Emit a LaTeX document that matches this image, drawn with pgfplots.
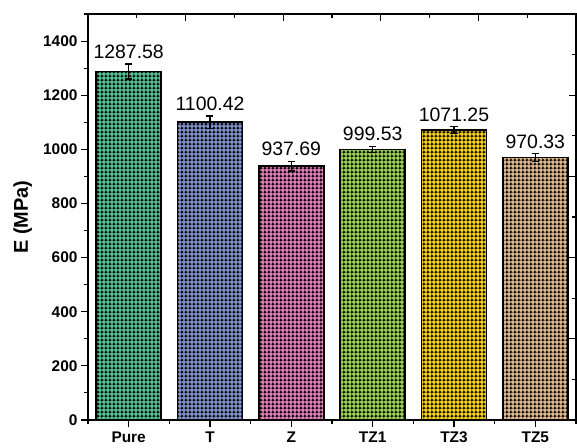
\documentclass[border=0pt]{standalone}
\usepackage{pgfplots}
\pgfplotsset{compat=1.18}
\usepackage{pgfplotstable}
\usepackage{fontspec}
\setmainfont{Liberation Sans}
\usetikzlibrary{patterns.meta}

\tikzdeclarepattern{
  name=dotgrid,
  type=uncolored,
  bottom left={(0bp,0bp)},
  top right={(4.4bp,4.4bp)},
  tile size={(4.4bp,4.4bp)},
  code={
    \draw[line width=0.55bp] (0bp,2.2bp) -- (4.4bp,2.2bp);
    \draw[line width=0.55bp] (2.2bp,0bp) -- (2.2bp,4.4bp);
    \fill (2.2bp,2.2bp) circle (1.35bp);
  }
}

\definecolor{cPure}{HTML}{55C495}
\definecolor{cT}{HTML}{8494D0}
\definecolor{cZ}{HTML}{E57FBD}
\definecolor{cTZa}{HTML}{9CD454}
\definecolor{cTZb}{HTML}{F8D01E}
\definecolor{cTZc}{HTML}{E2BA90}

\pgfplotstableread{
x y err lab
0 1287.58 28 1287.58
1 1100.42 23 1100.42
2 937.69 18 937.69
3 999.53 12 999.53
4 1071.25 12 1071.25
5 970.33 14 970.33
}\datatab

\begin{document}
\begin{tikzpicture}
\path[use as bounding box] (-88bp,-28bp) rectangle (489bp,420bp);
\pgfplotsset{
  barsty/.style={draw=black, line width=1.5bp, fill=#1, postaction={pattern=dotgrid, pattern color=black}},
}
\begin{axis}[
  width=488bp, height=406bp, scale only axis,
  at={(0,0)}, anchor=south west,
  xmin=-0.5, xmax=5.5, ymin=0, ymax=1500,
  ybar, bar width=0.8, bar shift=0pt,
  xtick={0,1,2,3,4,5}, xticklabels={Pure,T,Z,TZ1,TZ3,TZ5},
  minor xtick={-0.5,0.5,1.5,2.5,3.5,4.5,5.5},
  ytick={0,200,...,1400}, minor ytick={100,300,...,1500},
  xtick pos=left, ytick pos=left, tick align=outside,
  major tick length=7bp, minor tick length=4bp,
  every tick/.style={black, line width=1.1bp},
  axis line style={line width=1.2bp, black},
  ticklabel style={font=\fontsize{15.5}{18}\selectfont\bfseries},
  xticklabel style={yshift=-1.5bp},
  /pgf/number format/assume math mode=true,
  /pgf/number format/1000 sep={},
  ylabel={E (MPa)},
  ylabel style={font=\fontsize{20}{24}\selectfont\bfseries, at={(axis description cs:-0.134,0.5)}, anchor=center},
  clip=false,
  error bars/y dir=both, error bars/y explicit,
  error bars/error bar style={black, line width=1.2bp},
  error bars/error mark options={rotate=90, black, line width=1.2bp, mark size=3.5bp},
]
\addplot[barsty=cPure] coordinates {(0,1287.58) +- (0,28)};
\addplot[barsty=cT] coordinates {(1,1100.42) +- (0,23)};
\addplot[barsty=cZ] coordinates {(2,937.69) +- (0,18)};
\addplot[barsty=cTZa] coordinates {(3,999.53) +- (0,12)};
\addplot[barsty=cTZb] coordinates {(4,1071.25) +- (0,12)};
\addplot[barsty=cTZc] coordinates {(5,970.33) +- (0,14)};
\addplot[sharp plot, draw=none, no markers, error bars/y dir=none,
  nodes near coords, point meta=explicit symbolic,
  nodes near coords style={anchor=south, inner sep=0pt, yshift=5bp, font=\fontsize{19.5}{22}\selectfont, text=black}]
  table[x=x, y expr=\thisrow{y}+\thisrow{err}, meta=lab] {\datatab};
\end{axis}
\begin{axis}[
  width=488bp, height=406bp, scale only axis,
  at={(0,0)}, anchor=south west,
  xmin=0, xmax=1, ymin=0, ymax=1,
  xtick={0,0.2,...,1}, ytick={0,0.2,...,1}, minor tick num=1,
  xtick pos=right, ytick pos=right, tick align=inside,
  xticklabels={}, yticklabels={},
  major tick length=7bp, minor tick length=4bp,
  every tick/.style={black, line width=1.1bp},
  axis line style={line width=1.2bp, black},
]
\end{axis}
\end{tikzpicture}
\end{document}
